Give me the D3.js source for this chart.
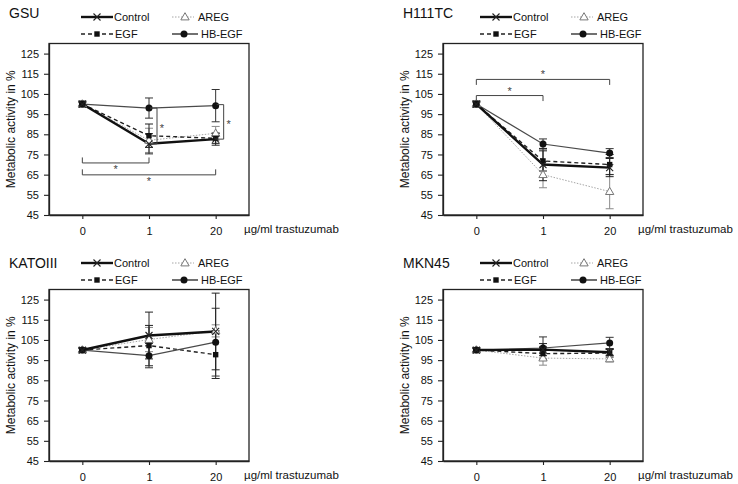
<!DOCTYPE html>
<html><head><meta charset="utf-8">
<script src="https://cdn.jsdelivr.net/npm/d3@7"></script>
<style>body{margin:0;background:#fff}svg{display:block;font-family:"Liberation Sans",Arial,sans-serif}</style>
</head><body><svg id="chart" width="738" height="484"></svg>
<script>
// ---------- data ----------
const categories = ["0", "1", "20"];
const yTicks = [45, 55, 65, 75, 85, 95, 105, 115, 125];
const panelNames = ["GSU", "H111TC", "KATOIII", "MKN45"];
const seriesNames = ["Control", "AREG", "EGF", "HB-EGF"];

// means per panel (GSU, H111TC, KATOIII, MKN45)
const controlMean = [[100, 80.3, 82.6], [100, 70.0, 68.5], [100, 107.2, 109.2], [100, 100.2, 98.9]];
const controlErr  = [[1.5, 5, 3],       [1.5, 8, 4.5],     [1, 11.6, 19],       [1, 3, 1.5]];
const aregMean    = [[100, 82, 85.5],   [100, 65, 56.6],   [100, 105.2, 109.5], [100, 96, 95.6]];
const aregErr     = [[1, 6, 3.4],       [1.5, 6.5, 8.5],   [1, 6, 3],           [1, 3.5, 1.5]];
const egfMean     = [[100, 84.3, 83],   [100, 71.8, 70.0], [100, 102.2, 97.7],  [100, 98.2, 98.5]];
const egfErr      = [[1, 5.8, 2.5],     [1, 5, 5],         [1, 10, 11.8],       [1, 3, 2]];
const hbegfMean   = [[100, 98, 99.2],   [100, 80.2, 75.7], [100, 97.2, 103.9],  [100, 101, 103.5]];
const hbegfErr    = [[1, 5, 8],         [1, 2.5, 2.2],     [1, 6, 16.8],        [1, 5.5, 2.8]];

// significance brackets: horizontal [panel, fromIdx, toIdx, yValue, direction(+1 ticks up, -1 ticks down), starSide]
const hBrackets = [[0, 0, 1, 70.8, 1, "below"], [0, 0, 2, 64.9, 1, "below"],
                   [1, 0, 2, 112.2, -1, "above"], [1, 0, 1, 104.2, -1, "above"]];
// vertical brackets: [panel, idx, yTop, yBottom]
const vBrackets = [[0, 1, 98, 80.3], [0, 2, 99.7, 82.6]];

// ---------- drawing ----------
const svg = d3.select("#chart");
svg.append("rect").attr("width", 738).attr("height", 484).attr("fill", "#fff");

const offsets = [[0, 0], [394, 0], [0, 246], [394, 246]];
const legendShift = [0, 399, 0, 399];

const style = {
  "Control": {mean: controlMean, err: controlErr, color: "#111", width: 2.4, dash: null, errColor: "#222"},
  "AREG":    {mean: aregMean, err: aregErr, color: "#a6a6a6", width: 1, dash: "1.5,1.5", errColor: "#8a8a8a"},
  "EGF":     {mean: egfMean, err: egfErr, color: "#222", width: 1.4, dash: "4,3", errColor: "#222"},
  "HB-EGF":  {mean: hbegfMean, err: hbegfErr, color: "#4a4a4a", width: 1.2, dash: null, errColor: "#333"}
};
const drawOrder = ["AREG", "EGF", "HB-EGF", "Control"];

function marker(g, name, x, y) {
  if (name === "Control") {
    const s = 3.5;
    g.append("path").attr("d", `M${x-s},${y-s}L${x+s},${y+s}M${x-s},${y+s}L${x+s},${y-s}`)
      .attr("stroke", "#222").attr("stroke-width", 1.1).attr("fill", "none");
  } else if (name === "AREG") {
    g.append("path").attr("d", d3.symbol(d3.symbolTriangle, 30)()).attr("transform", `translate(${x},${y+0.5})`)
      .attr("fill", "#fff").attr("stroke", "#777").attr("stroke-width", 1);
  } else if (name === "EGF") {
    g.append("rect").attr("x", x - 2.7).attr("y", y - 2.7).attr("width", 5.4).attr("height", 5.4).attr("fill", "#111");
  } else {
    g.append("circle").attr("cx", x).attr("cy", y).attr("r", 3.5).attr("fill", "#111");
  }
}

panelNames.forEach((pname, p) => {
  const [ox, oy] = offsets[p];
  const left = ox + 49, right = ox + 249, top = oy + 43.5, bottom = oy + 215;
  const g = svg.append("g");
  const x = d3.scalePoint().domain(categories).range([left, right]).padding(0.5);
  const y = d3.scaleLinear().domain([45, 130]).range([bottom, top]);

  // frame
  g.append("rect").attr("x", left).attr("y", top).attr("width", right - left).attr("height", bottom - top)
    .attr("fill", "none").attr("stroke", "#222").attr("stroke-width", 1.3);

  // axes
  const ya = g.append("g").attr("transform", `translate(${left},0)`)
    .call(d3.axisLeft(y).tickValues(yTicks).tickSize(5).tickPadding(5).tickSizeOuter(0));
  const xa = g.append("g").attr("transform", `translate(0,${bottom})`)
    .call(d3.axisBottom(x).tickSize(4).tickPadding(8).tickSizeOuter(0));
  [ya, xa].forEach(a => {
    a.select(".domain").attr("stroke", "#222").attr("stroke-width", 1.3);
    a.selectAll(".tick line").attr("stroke", "#222").attr("stroke-width", 1.1);
    a.selectAll(".tick text").attr("font-size", 11).attr("fill", "#111")
      .attr("font-family", '"Liberation Sans",Arial,sans-serif');
  });

  // title
  g.append("text").attr("x", ox + 9).attr("y", oy + (p < 2 ? 18 : 22)).attr("font-size", 14).attr("fill", "#111").text(pname);

  // axis titles
  g.append("text").attr("transform", `translate(${ox + 15},${(top + bottom) / 2}) rotate(-90)`)
    .attr("text-anchor", "middle").attr("font-size", 12).attr("fill", "#111").text("Metabolic activity in %");
  g.append("text").attr("x", ox + 244).attr("y", oy + 233).attr("font-size", 11.5).attr("fill", "#111").text("µg/ml trastuzumab");

  // series
  const line = d3.line().x((d, i) => x(categories[i])).y(d => y(d));
  drawOrder.forEach(name => {
    const st = style[name];
    const m = st.mean[p], e = st.err[p];
    // error bars
    m.forEach((v, i) => {
      const cx = x(categories[i]);
      g.append("path").attr("d", `M${cx},${y(v + e[i])}V${y(v - e[i])}M${cx-4},${y(v + e[i])}H${cx+4}M${cx-4},${y(v - e[i])}H${cx+4}`)
        .attr("stroke", st.errColor).attr("stroke-width", 1).attr("fill", "none");
    });
    g.append("path").datum(m).attr("d", line).attr("fill", "none").attr("stroke", st.color)
      .attr("stroke-width", st.width).attr("stroke-dasharray", st.dash);
  });
  drawOrder.forEach(name => {
    const m = style[name].mean[p];
    m.forEach((v, i) => marker(g, name, x(categories[i]), y(v)));
  });

  // brackets
  hBrackets.filter(b => b[0] === p).forEach(b => {
    const x1 = x(categories[b[1]]), x2 = x(categories[b[2]]), yy = y(b[3]), t = 5.5 * b[4];
    g.append("path").attr("d", `M${x1},${yy - t}V${yy}H${x2}V${yy - t}`).attr("fill", "none").attr("stroke", "#444").attr("stroke-width", 1);
    const sx = (x1 + x2) / 2;
    g.append("text").attr("x", sx).attr("y", b[5] === "below" ? yy + 10 : yy - 1).attr("text-anchor", "middle")
      .attr("font-size", 11).attr("fill", "#444").text("*");
  });
  vBrackets.filter(b => b[0] === p).forEach(b => {
    const cx = x(categories[b[1]]), y1 = y(b[2]), y2 = y(b[3]), bx = cx + 8;
    g.append("path").attr("d", `M${cx + 1},${y1}H${bx}V${y2}H${cx + 1}`).attr("fill", "none").attr("stroke", "#444").attr("stroke-width", 1);
    g.append("text").attr("x", bx + 5).attr("y", (y1 + y2) / 2 + 6).attr("text-anchor", "middle")
      .attr("font-size", 11).attr("fill", "#444").text("*");
  });

  // legend
  const lx = 81 + legendShift[p];
  const ly1 = oy + 17, ly2 = oy + 34;
  const legendItems = [
    {name: "Control", x0: lx, x1: lx + 32, y: ly1, mx: lx + 16, tx: lx + 33},
    {name: "EGF", x0: lx, x1: lx + 32, y: ly2, mx: lx + 16, tx: lx + 34},
    {name: "AREG", x0: lx + 91, x1: lx + 113, y: ly1, mx: lx + 104, tx: lx + 117},
    {name: "HB-EGF", x0: lx + 91, x1: lx + 117, y: ly2, mx: lx + 103, tx: lx + 120}
  ];
  legendItems.forEach(it => {
    const st = style[it.name];
    g.append("line").attr("x1", it.x0).attr("x2", it.x1).attr("y1", it.y).attr("y2", it.y)
      .attr("stroke", it.name === "HB-EGF" ? "#111" : st.color).attr("stroke-width", st.width)
      .attr("stroke-dasharray", st.dash);
    marker(g, it.name, it.mx, it.y);
    g.append("text").attr("x", it.tx).attr("y", it.y + 4).attr("font-size", 11).attr("fill", "#111").text(it.name);
  });
});
</script></body></html>
